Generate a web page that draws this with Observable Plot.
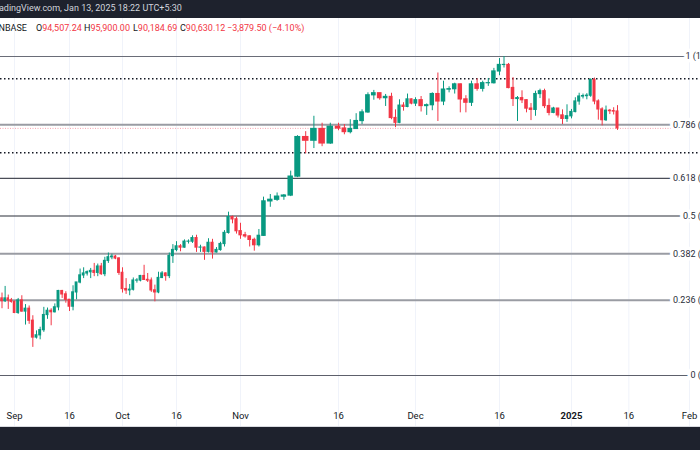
<!DOCTYPE html>
<html><head><meta charset="utf-8">
<script src="https://cdn.jsdelivr.net/npm/d3@7"></script>
<script src="https://cdn.jsdelivr.net/npm/@observablehq/plot@0.6"></script>
<style>
html,body{margin:0;padding:0;background:#fff;overflow:hidden;}
#wrap{position:relative;width:700px;height:450px;overflow:hidden;font-family:Roboto,"Noto Sans",sans-serif;}
#chart{position:absolute;left:0;top:0;}
#topbar{position:absolute;left:0;top:0;width:700px;height:18px;background:#1e222d;color:#d1d4dc;font-size:9px;white-space:nowrap;}
#topbar span{position:absolute;left:-9px;top:3px;}
.hd{position:absolute;top:23px;font-size:9px;color:#131722;white-space:nowrap;}
.hd .v{color:#f23645;}
#bottombar{position:absolute;left:0;top:426px;width:700px;height:24px;background:#1e222d;border-top:1px solid #d9dbe0;box-sizing:border-box;}
</style></head>
<body><div id="wrap"><div id="chart"></div>
<div id="topbar"><span>TradingView.com, Jan 13, 2025 18:22 UTC+5:30</span></div>
<div id="hdr"></div>
<div id="bottombar"></div></div>
<script>
// ---- data (prices in thousands USD), daily candles 2024-08-27 .. 2025-01-13
const startDay = "2024-08-27", endDay = "2025-01-13";
const openK = [62.8,59.4,59.0,59.4,59.1,
58.9,57.3,59.1,57.5,57.9,56.2,53.9,54.2,54.9,57.0,
57.6,57.4,58.1,60.5,60.0,59.2,58.2,60.3,61.8,62.9,
63.2,63.4,63.6,63.3,64.3,63.1,65.2,65.8,65.9,65.6,
63.3,60.8,60.6,60.7,62.1,62.1,62.8,62.2,62.1,60.6,
60.3,62.5,63.2,62.8,66.0,67.0,67.6,67.4,68.4,68.4,
69.0,67.4,67.4,66.7,68.2,66.6,67.0,68.0,69.9,72.7,72.3,
70.2,69.5,69.3,68.7,67.8,69.4,75.6,75.9,76.5,76.7,
80.4,88.7,87.9,90.5,87.3,91.0,90.6,89.8,90.5,92.3,
94.3,98.4,98.9,97.7,98.0,93.0,91.9,95.9,95.6,97.4,
96.4,97.2,95.8,96.0,98.7,96.9,99.8,99.9,101.1,97.4,
96.6,101.1,100.0,101.4,101.4,104.4,106.1,106.1,100.2,97.5,
97.7,97.2,95.2,94.9,98.7,99.4,95.8,94.2,95.2,93.6,92.8,
93.4,94.4,96.9,98.1,98.2,98.3,102.2,96.9,95.0,92.5,94.7,94.6,94.51];
const highK = [63.2,60.2,61.2,59.9,59.4,
59.0,59.4,59.8,58.5,58.3,56.9,54.8,55.3,58.1,58.0,
57.9,58.6,60.6,60.6,60.4,59.2,61.3,61.8,63.9,64.1,
63.6,64.0,64.8,64.7,64.8,65.8,66.5,66.3,66.1,65.7,
64.1,62.4,61.5,62.5,62.4,62.9,64.5,63.2,62.5,61.4,
63.4,63.5,63.3,66.5,67.9,68.4,67.9,68.7,68.7,69.4,
69.5,67.8,67.5,68.9,68.8,67.4,68.3,70.3,73.6,72.9,72.7,
71.6,70.0,69.4,69.0,70.5,76.4,76.9,77.2,76.9,81.5,
89.0,89.9,93.4,91.8,91.8,91.8,91.5,92.6,94.0,94.9,
99.0,99.6,98.9,98.6,98.9,94.9,97.3,96.6,98.7,97.5,
97.8,98.1,96.3,99.0,104.0,101.9,100.5,101.4,101.2,98.3,
101.9,102.5,101.9,102.6,105.2,107.8,108.35,106.5,102.8,98.1,
99.5,97.3,96.4,99.4,99.9,99.9,97.5,95.5,95.2,94.9,96.1,
95.0,97.8,98.9,98.7,98.8,102.5,102.7,97.3,95.4,95.8,95.0,95.4,95.9];
const lowK = [58.1,57.9,58.8,57.8,58.7,
57.2,57.1,57.4,55.6,55.7,52.6,53.7,53.6,54.6,56.4,
55.5,57.3,57.6,59.4,58.7,57.5,57.6,59.2,61.6,62.4,
62.8,62.4,62.7,62.7,62.9,62.7,64.8,65.4,65.4,62.9,
60.2,60.0,59.8,60.5,61.7,61.9,62.2,61.8,60.3,58.9,
60.1,62.4,62.0,62.4,64.8,66.7,66.7,67.3,68.0,68.1,
66.6,66.6,65.3,66.5,65.5,66.5,66.8,67.5,69.7,71.5,69.7,
68.8,69.0,67.5,66.8,67.5,69.3,74.5,75.6,75.8,76.5,
80.2,85.1,86.2,86.6,87.1,90.1,89.2,89.4,90.4,91.5,
94.1,97.2,97.2,95.7,92.6,90.8,91.7,94.6,95.4,96.1,
95.7,94.4,93.6,94.7,92.2,95.9,99.0,98.7,94.2,94.2,
95.7,99.4,99.2,100.6,101.2,103.3,105.3,100.0,95.7,92.2,
96.4,94.2,92.4,93.4,97.6,95.2,93.5,94.0,93.0,91.5,92.0,
92.8,94.2,96.0,97.5,97.3,97.9,96.1,92.5,91.2,92.2,93.8,93.7,90.18];
const closeK = [59.4,59.0,59.4,59.1,58.9,
57.3,59.1,57.5,57.9,56.2,53.9,54.2,54.9,57.0,57.6,
57.4,58.1,60.5,60.0,59.2,58.2,60.3,61.8,62.9,63.2,
63.4,63.6,63.3,64.3,63.1,65.2,65.8,65.9,65.6,63.3,
60.8,60.6,60.7,62.1,62.1,62.8,62.2,62.1,60.6,60.3,
62.5,63.2,62.8,66.0,67.0,67.6,67.4,68.4,68.4,69.0,
67.4,67.4,66.7,68.2,66.6,67.0,68.0,69.9,72.7,72.3,70.2,
69.5,69.3,68.7,67.8,69.4,75.6,75.9,76.5,76.7,80.4,
88.7,87.9,90.5,87.3,91.0,90.6,89.8,90.5,92.3,94.3,
98.4,98.9,97.7,98.0,93.0,91.9,95.9,95.6,97.4,96.4,
97.2,95.8,96.0,98.7,96.9,99.8,99.9,101.1,97.4,96.6,
101.1,100.0,101.4,101.4,104.4,106.1,106.1,100.2,97.5,97.7,
97.2,95.2,94.9,98.7,99.4,95.8,94.2,95.2,93.6,92.8,93.4,
94.4,96.9,98.1,98.2,98.3,102.2,96.9,95.0,92.5,94.7,94.6,94.51,90.63];

// Fibonacci retracement (log-based) anchors and levels
const fibLow = 49050, fibHigh = 108353;
const fibLevels = [1, 0.786, 0.618, 0.5, 0.382, 0.236, 0];
// horizontal dotted lines and last price line
const dottedLevels = [102500, 85300];
const lastPrice = 90630.12;

// x-axis ticks
const tickDates = ["2024-09-01","2024-09-16","2024-10-01","2024-10-16","2024-11-01","2024-11-16","2024-12-01","2024-12-16","2025-01-01","2025-01-16","2025-02-01"];
const tickLabels = ["Sep","16","Oct","16","Nov","16","Dec","16","2025","16","Feb"];

// header
const headSymbol = "COINBASE";
const ohlcLabels = ["O","H","L","C"];
const ohlcValues = ["94,507.24","95,900.00","90,184.69","90,630.12"];
const changeText = "\u22123,879.50 (\u22124.10%)";

// ---- build
const days = d3.utcDay.range(new Date(startDay), d3.utcDay.offset(new Date(endDay), 1));
const n = Math.min(days.length, openK.length, highK.length, lowK.length, closeK.length);
const candles = d3.range(n).map(i => ({
  date: days[i], open: openK[i]*1000, high: highK[i]*1000, low: lowK[i]*1000, close: closeK[i]*1000
}));
const up = d => d.close >= d.open;
const GREEN = "#089981", RED = "#f23645";
const halfDay = 0.4 * 864e5;

const fibRows = fibLevels.map(l => ({level: l, price: fibLow * Math.pow(fibHigh / fibLow, l)}));
const fmt = d3.format(",.2f");
const fibStyle = {1: ["#6a6d78",1.2], 0.786: ["#9a9ca3",2], 0.618: ["#4a4d57",1.2], 0.5: ["#2a2e39",1.2], 0.382: ["#9a9ca3",2], 0.236: ["#9a9ca3",2], 0: ["#5d606b",1.2]};

const tDates = tickDates.map(s => new Date(s));
// piecewise time scale following the reference's uneven horizontal spacing
const anchorDates = ["2024-08-28","2024-09-01","2024-09-16","2024-10-01","2024-10-16","2024-11-01","2024-11-06","2024-11-11","2024-11-16","2024-11-25","2024-12-01","2024-12-16","2025-01-01","2025-01-13","2025-02-01"].map(s => new Date(s));
const anchorPx = [1.5, 14, 69, 122, 176, 240, 263, 297, 338, 391, 415, 499, 571, 617, 689];

const chart = Plot.plot({
  width: 700, height: 450,
  marginTop: 18, marginBottom: 24, marginLeft: 0, marginRight: 0,
  style: {fontFamily: "Roboto, 'Noto Sans', sans-serif", fontSize: "9px", background: "white", color: "#131722"},
  x: {type: "utc", domain: anchorDates, range: anchorPx, axis: null},
  y: {type: "log", domain: [fibLow, fibHigh], range: [375, 56], axis: null},
  marks: [
    Plot.ruleX(tDates, {stroke: "#f0f3fa", strokeWidth: 1}),
    Plot.ruleY(fibRows, {y: "price", stroke: d => fibStyle[d.level][0], strokeWidth: d => fibStyle[d.level][1]}),
    Plot.ruleY(dottedLevels, {stroke: "#131722", strokeWidth: 1.5, strokeDasharray: "1.5,2.5"}),
    Plot.ruleY([lastPrice], {stroke: "#f7a1ad", strokeWidth: 1, strokeDasharray: "1,1.5"}),
    Plot.ruleX(candles, {x: "date", y1: "low", y2: "high", stroke: d => up(d) ? GREEN : RED, strokeWidth: 1}),
    Plot.rect(candles, {
      x1: d => new Date(+d.date - halfDay), x2: d => new Date(+d.date + halfDay),
      y1: d => Math.min(d.open, d.close), y2: d => Math.max(d.open, d.close),
      fill: d => up(d) ? GREEN : RED, insetTop: -0.6, insetBottom: -0.6
    }),
    Plot.text(fibRows, {
      y: "price", frameAnchor: "right", textAnchor: "end", dx: 43,
      text: d => `${d.level} (${fmt(d.price)})`,
      fill: "#2a2e39", stroke: "white", strokeWidth: 7, fontSize: 9
    }),
    Plot.text(d3.range(tDates.length).filter(i => tickLabels[i] !== "2025"), {
      x: i => tDates[i], text: i => tickLabels[i], frameAnchor: "bottom", dy: -8, fill: "#131722", fontSize: 9.5
    }),
    Plot.text(d3.range(tDates.length).filter(i => tickLabels[i] === "2025"), {
      x: i => tDates[i], text: i => tickLabels[i], frameAnchor: "bottom", dy: -8, fill: "#131722", fontSize: 9.5, fontWeight: "bold"
    })
  ]
});
document.getElementById("chart").appendChild(chart);

// header line
const hdr = document.getElementById("hdr");
const pieces = [[-16, `<span>${headSymbol}</span>`]];
const hx = [36, 84, 133, 180];
ohlcLabels.forEach((l, i) => pieces.push([hx[i], `<span>${l}</span><span class="v">${ohlcValues[i]}</span>`]));
pieces.push([227, `<span class="v">${changeText}</span>`]);
hdr.innerHTML = pieces.map(([x, h]) => `<div class="hd" style="left:${x}px">${h}</div>`).join("");
</script>
</body></html>
